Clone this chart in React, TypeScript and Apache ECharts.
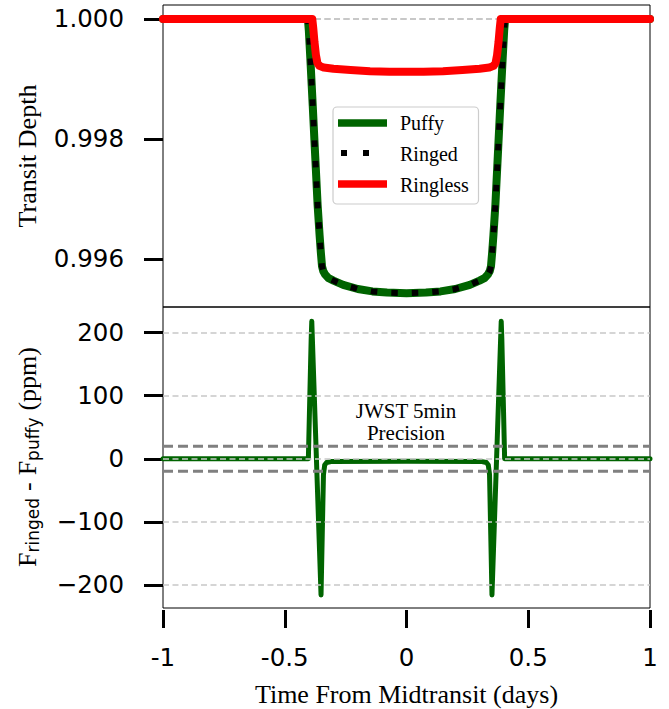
import React, { useEffect, useRef } from "react";
import * as echarts from "echarts";

// ---------- data ----------
const depthTicks = [0.996, 0.998, 1.0];
const diffTicks = [-200, -100, 0, 100, 200];
const timeTicks = [-1, -0.5, 0, 0.5, 1];
const jwstPrecision = [20, -20];

// Puffy planet light curve [time (days), relative flux]
const puffyDepth: number[][] = [
  [-1.0, 1.0], [-0.405, 1.0], [-0.401, 0.9998], [-0.395, 0.99935], [-0.385, 0.99855],
  [-0.375, 0.99772], [-0.365, 0.9969], [-0.357, 0.9964], [-0.352, 0.99612], [-0.347, 0.99588],
  [-0.342, 0.9958], [-0.334, 0.99574], [-0.32, 0.99568], [-0.3, 0.99564], [-0.26, 0.99557],
  [-0.2, 0.9955], [-0.14, 0.99546], [-0.08, 0.99544], [0.0, 0.99543], [0.08, 0.99544],
  [0.14, 0.99546], [0.2, 0.9955], [0.26, 0.99557], [0.3, 0.99564], [0.32, 0.99568],
  [0.334, 0.99574], [0.342, 0.9958], [0.347, 0.99588], [0.352, 0.99612], [0.357, 0.9964],
  [0.365, 0.9969], [0.375, 0.99772], [0.385, 0.99855], [0.395, 0.99935], [0.401, 0.9998],
  [0.405, 1.0], [1.0, 1.0],
];

// Ringed planet light curve (visually identical to puffy at this scale)
const ringedDepth: number[][] = [
  [-1.0, 1.0], [-0.405, 1.0], [-0.401, 0.9998], [-0.395, 0.99935], [-0.385, 0.99855],
  [-0.375, 0.99772], [-0.365, 0.9969], [-0.357, 0.9964], [-0.352, 0.99612], [-0.347, 0.99588],
  [-0.342, 0.9958], [-0.334, 0.99574], [-0.32, 0.99568], [-0.3, 0.99564], [-0.26, 0.99557],
  [-0.2, 0.9955], [-0.14, 0.99546], [-0.08, 0.99544], [0.0, 0.99543], [0.08, 0.99544],
  [0.14, 0.99546], [0.2, 0.9955], [0.26, 0.99557], [0.3, 0.99564], [0.32, 0.99568],
  [0.334, 0.99574], [0.342, 0.9958], [0.347, 0.99588], [0.352, 0.99612], [0.357, 0.9964],
  [0.365, 0.9969], [0.375, 0.99772], [0.385, 0.99855], [0.395, 0.99935], [0.401, 0.9998],
  [0.405, 1.0], [1.0, 1.0],
];

// Ringless planet light curve
const ringlessDepth: number[][] = [
  [-1.0, 1.0], [-0.387, 1.0], [-0.383, 0.99985], [-0.378, 0.99962], [-0.372, 0.9994],
  [-0.366, 0.99927], [-0.358, 0.99922], [-0.34, 0.99919], [-0.3, 0.99917], [-0.23, 0.99915],
  [-0.15, 0.99913], [-0.07, 0.99912], [0.0, 0.99912], [0.07, 0.99912], [0.15, 0.99913],
  [0.23, 0.99915], [0.3, 0.99917], [0.34, 0.99919], [0.358, 0.99922], [0.366, 0.99927],
  [0.372, 0.9994], [0.378, 0.99962], [0.383, 0.99985], [0.387, 1.0], [1.0, 1.0],
];

// F_ringed - F_puffy in ppm
const diffPpm: number[][] = [
  [-1.0, 0], [-0.403, 0], [-0.397, 100], [-0.3915, 190], [-0.389, 218], [-0.351, -216],
  [-0.346, -120], [-0.341, -25], [-0.336, -10], [-0.328, -6], [-0.31, -4.5], [0.0, -4],
  [0.31, -4.5], [0.328, -6], [0.336, -10], [0.341, -25], [0.346, -120], [0.351, -216],
  [0.389, 218], [0.3915, 190], [0.397, 100], [0.403, 0], [1.0, 0],
];

const SERIF = '"Liberation Serif", "Times New Roman", serif';
const SANS = '"DejaVu Sans", sans-serif';

function measure(text: string, font: string): number {
  const ctx = document.createElement("canvas").getContext("2d");
  if (!ctx) return text.length * 10;
  ctx.font = font;
  return ctx.measureText(text).width;
}

function buildDiffTitle() {
  const pieces = [
    { t: "F", fam: SERIF, size: 26, dy: 0, gap: 0 },
    { t: "ringed", fam: SANS, size: 17, dy: 6, gap: 0 },
    { t: "-", fam: SERIF, size: 26, dy: 0, gap: 7 },
    { t: "F", fam: SERIF, size: 26, dy: 0, gap: 7 },
    { t: "puffy", fam: SANS, size: 17, dy: 6, gap: 0 },
    { t: "(ppm)", fam: SERIF, size: 26, dy: 0, gap: 7 },
  ];
  const widths = pieces.map((p) => measure(p.t, `${p.size}px ${p.fam}`));
  const total = pieces.reduce((s, p, i) => s + p.gap + widths[i], 0);
  let cur = -total / 2;
  const children: any[] = [];
  pieces.forEach((p, i) => {
    cur += p.gap;
    children.push({
      type: "text",
      x: cur,
      y: p.dy,
      style: {
        text: p.t,
        fill: "#000",
        fontSize: p.size,
        fontFamily: p.fam,
        align: "left",
        verticalAlign: "middle",
        textAlign: "left",
        textVerticalAlign: "middle",
      },
    });
    cur += widths[i];
  });
  return {
    type: "group",
    x: 27,
    y: 457,
    rotation: Math.PI / 2,
    children,
    z: 100,
  };
}

function text(t: string, x: number, y: number, size: number, family: string, align = "center") {
  return {
    type: "text",
    x,
    y,
    z: 100,
    style: {
      text: t,
      fill: "#000",
      fontSize: size,
      fontFamily: family,
      align,
      verticalAlign: "middle",
      textAlign: align,
      textVerticalAlign: "middle",
    },
  };
}

export default function App() {
  const ref = useRef<HTMLDivElement>(null);

  useEffect(() => {
    if (!ref.current) return;
    const chart = echarts.init(ref.current, undefined, { renderer: "svg" });

    const gridLine = { color: "#c8c8c8", width: 1.5, type: [6, 3.5] as any };
    const tickLabel = { color: "#000", fontSize: 24.5, fontFamily: SANS };

    const option: any = {
      animation: false,
      backgroundColor: "#fff",
      grid: [
        { left: 163, top: 5, width: 487, height: 302, show: true, borderColor: "#000", borderWidth: 1, backgroundColor: "transparent" },
        { left: 163, top: 307, width: 487, height: 301, show: true, borderColor: "#000", borderWidth: 1, backgroundColor: "transparent" },
      ],
      xAxis: [
        { type: "value", gridIndex: 0, min: -1, max: 1, show: false, axisLine: { onZero: false } },
        {
          type: "value",
          gridIndex: 1,
          min: -1,
          max: 1,
          interval: 0.5,
          offset: 2,
          position: "bottom",
          axisLine: { show: false, onZero: false },
          axisTick: { show: true, length: 18, lineStyle: { color: "#000", width: 3 } },
          axisLabel: {
            ...tickLabel,
            margin: 35,
            showMinLabel: true,
            showMaxLabel: true,
            formatter: (v: number) => {
              const i = timeTicks.indexOf(v);
              return i >= 0 ? String(timeTicks[i]) : "";
            },
          },
          splitLine: { show: false },
        },
      ],
      yAxis: [
        {
          type: "value",
          gridIndex: 0,
          min: 0.9952,
          max: 1.000233,
          position: "left",
          axisLine: { show: false, onZero: false },
          axisTick: { show: true, length: 19, lineStyle: { color: "#000", width: 3 }, customValues: depthTicks },
          axisLabel: { ...tickLabel, margin: 39, customValues: depthTicks, formatter: (v: number) => v.toFixed(3) },
          splitLine: { show: false },
        },
        {
          type: "value",
          gridIndex: 1,
          min: -236.7,
          max: 240.7,
          position: "left",
          axisLine: { show: false, onZero: false },
          axisTick: { show: true, length: 19, lineStyle: { color: "#000", width: 3 }, customValues: diffTicks },
          axisLabel: {
            ...tickLabel,
            margin: 39,
            customValues: diffTicks,
            formatter: (v: number) => (v < 0 ? "\u2212" + Math.abs(v) : String(v)),
          },
          splitLine: { show: false },
        },
      ],
      series: [
        {
          type: "line",
          name: "grid-top",
          xAxisIndex: 0,
          yAxisIndex: 0,
          data: [],
          z: 1,
          silent: true,
          markLine: {
            silent: true,
            symbol: ["none", "none"],
            label: { show: false },
            lineStyle: gridLine,
            emphasis: { disabled: true },
            data: depthTicks.map((v) => ({ yAxis: v })),
          },
        },
        {
          type: "line",
          name: "grid-bottom",
          xAxisIndex: 1,
          yAxisIndex: 1,
          data: [],
          z: 1,
          silent: true,
          markLine: {
            silent: true,
            symbol: ["none", "none"],
            label: { show: false },
            lineStyle: gridLine,
            emphasis: { disabled: true },
            data: diffTicks.map((v) => ({ yAxis: v })),
          },
        },
        {
          type: "line",
          name: "Puffy",
          xAxisIndex: 0,
          yAxisIndex: 0,
          data: puffyDepth,
          showSymbol: false,
          z: 3,
          lineStyle: { color: "#006400", width: 8, cap: "round", join: "round" },
        },
        {
          type: "line",
          name: "Ringed",
          xAxisIndex: 0,
          yAxisIndex: 0,
          data: ringedDepth,
          showSymbol: false,
          z: 4,
          lineStyle: { color: "#000", width: 6, type: [6.5, 14], cap: "butt", join: "round" },
        },
        {
          type: "line",
          name: "Ringless",
          xAxisIndex: 0,
          yAxisIndex: 0,
          data: ringlessDepth,
          showSymbol: false,
          z: 5,
          lineStyle: { color: "#ff0000", width: 8, cap: "round", join: "round" },
        },
        {
          type: "line",
          name: "Difference",
          xAxisIndex: 1,
          yAxisIndex: 1,
          data: diffPpm,
          showSymbol: false,
          z: 3,
          lineStyle: { color: "#006400", width: 5, cap: "round", join: "round" },
        },
        ...jwstPrecision.map((p, i) => ({
          type: "line",
          name: "JWST" + i,
          xAxisIndex: 1,
          yAxisIndex: 1,
          data: [[-1, p], [1, p]],
          showSymbol: false,
          z: 6,
          lineStyle: { color: "#808080", width: 3, type: [10, 5] },
        })),
      ],
      graphic: {
        elements: [
          // legend box
          {
            type: "rect",
            z: 100,
            shape: { x: 333, y: 107, width: 145.5, height: 97, r: 4 },
            style: { fill: "rgba(255,255,255,0.8)", stroke: "#cccccc", lineWidth: 1.2 },
          },
          { type: "line", z: 101, shape: { x1: 338, y1: 123, x2: 387, y2: 123 }, style: { stroke: "#006400", lineWidth: 7.5 } },
          { type: "line", z: 101, shape: { x1: 341, y1: 153, x2: 385, y2: 153 }, style: { stroke: "#000", lineWidth: 6, lineDash: [6, 16], lineCap: "butt" } },
          { type: "line", z: 101, shape: { x1: 338, y1: 184, x2: 387, y2: 184 }, style: { stroke: "#ff0000", lineWidth: 7.5 } },
          { ...text("Puffy", 400, 123, 20, SERIF, "left"), z: 101 },
          { ...text("Ringed", 400, 154, 20, SERIF, "left"), z: 101 },
          { ...text("Ringless", 400, 185, 20, SERIF, "left"), z: 101 },
          // annotation
          text("JWST 5min", 406, 411, 21, SERIF),
          text("Precision", 406, 433, 21, SERIF),
          // axis titles
          text("Time From Midtransit (days)", 406.5, 694, 26, SERIF),
          { ...text("Transit Depth", 27, 156, 26, SERIF), rotation: Math.PI / 2 },
          buildDiffTitle(),
        ],
      },
    };

    chart.setOption(option);
    return () => chart.dispose();
  }, []);

  return (
    <div
      ref={ref}
      style={{ position: "fixed", left: 0, top: 0, width: 669, height: 709, background: "#fff" }}
    />
  );
}
